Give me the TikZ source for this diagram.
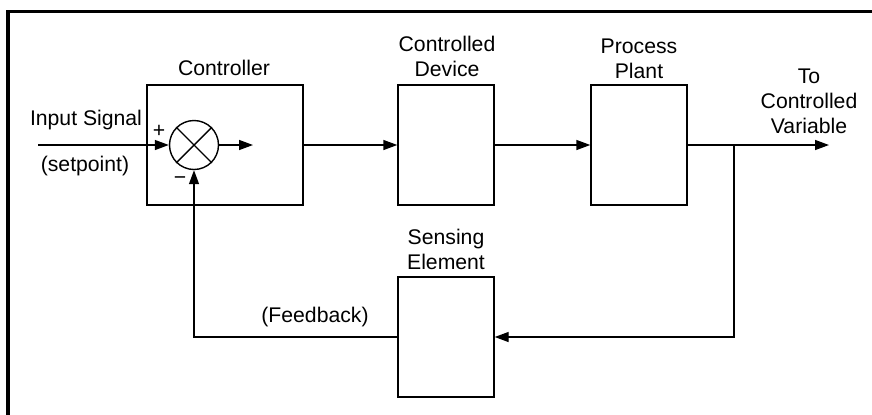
\documentclass[tikz,border=0pt]{standalone}
\usepackage{fontspec}
\setmainfont{Liberation Sans}
\usetikzlibrary{arrows.meta}
\tikzset{
	block/.style={draw, line width=0.7pt, minimum width=48pt, minimum height=60pt, inner sep=0pt},
	sig/.style={line width=0.7pt, -{Triangle[length=7pt, width=5pt]}},
	wire/.style={line width=0.7pt},
	lbl/.style={align=center, inner sep=0pt, font=\fontsize{10.6}{12.5}\selectfont}
}

\begin{document}
\begin{tikzpicture}[x=0.5pt, y=-0.5pt]
		%%%%% START %%%%%
		\useasboundingbox (0, 0) rectangle (872, 414);
		
		\draw[line width=1.6pt] (8, 420) -- (8, 11.5) -- (880, 11.5);
		
		\node[block, minimum width=78pt] (ctrl) at (225, 145) {};
		\node[lbl] (ctrllbl) at (224, 68) {Controller};
		
		\node[draw, circle, line width=0.7pt, minimum size=24.5pt, inner sep=0pt] (sum) at (194, 145) {};
		\draw[wire] (sum.north west) -- (sum.south east);
		\draw[wire] (sum.north east) -- (sum.south west);
		\node[lbl] (plus) at (159, 131) {+};
		\node[lbl] (minus) at (180, 181) {−};
		
		\node[block] (dev) at (446, 145) {};
		\node[lbl] (devlbl) at (447, 56) {Controlled\\Device};
		
		\node[block] (plant) at (639, 145) {};
		\node[lbl] (plantlbl) at (639, 59) {Process\\Plant};
		
		\node[block] (sens) at (446, 337) {};
		\node[lbl] (senslbl) at (446, 249) {Sensing\\Element};
		
		\node[lbl] (inlbl) at (86, 120) {Input Signal};
		\node[lbl] (setlbl) at (85, 166) {(setpoint)};
		\node[lbl] (outlbl) at (809, 101) {To\\Controlled\\Variable};
		\node[lbl] (fblbl) at (315, 317) {(Feedback)};
		
		\coordinate (in) at (38, 145);
		\coordinate (sumout) at (253, 145);
		\coordinate (out) at (829, 145);
		\coordinate (branch) at (734, 145);
		
		\draw[sig] (in) -- (sum.west);
		\draw[sig] (sum.east) -- (sumout);
		\draw[sig] (ctrl.east) -- (dev.west);
		\draw[sig] (dev.east) -- (plant.west);
		\draw[sig] (plant.east) -- (out);
		\draw[sig] (branch) |- (sens.east);
		\draw[sig] (sens.west) -| (sum.south);
		
		%%%%% END %%%%%
	\end{tikzpicture}
\end{document}
